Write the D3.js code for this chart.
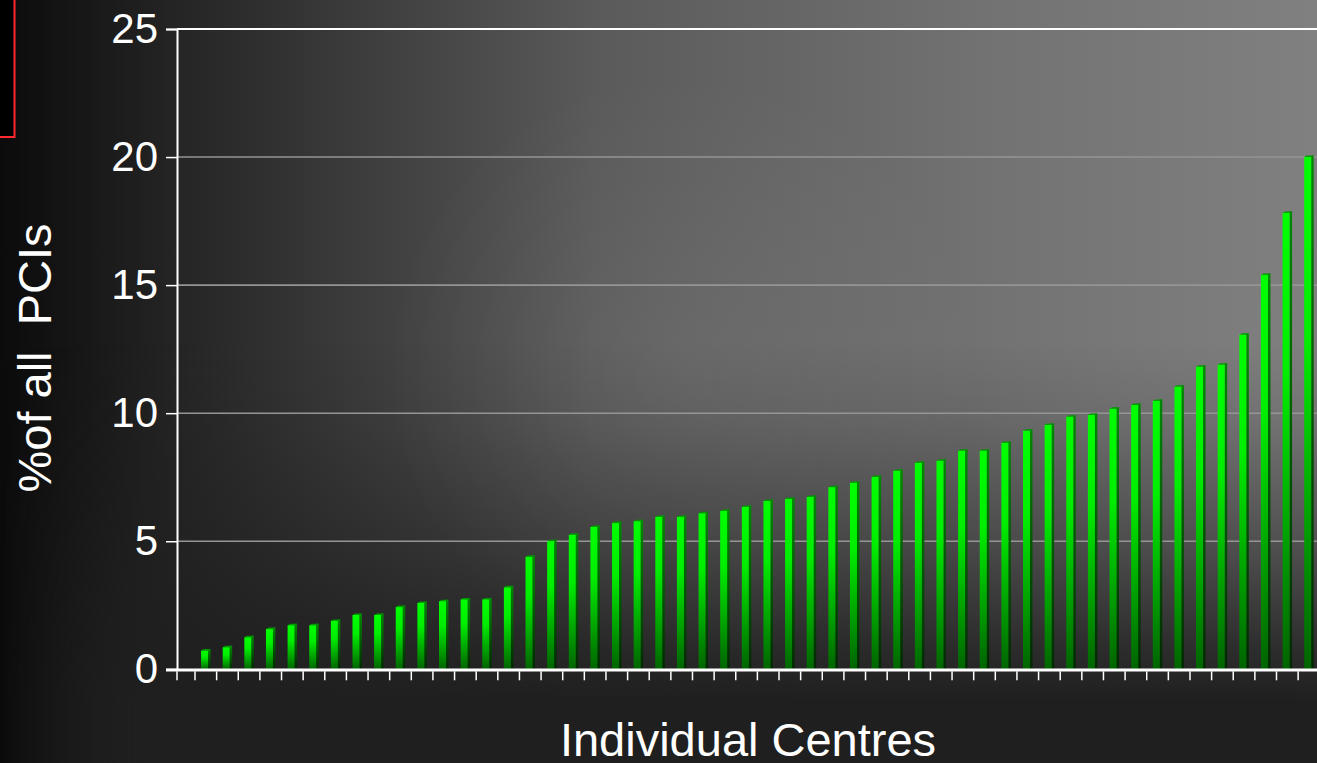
<!DOCTYPE html>
<html>
<head>
<meta charset="utf-8">
<script src="https://cdn.jsdelivr.net/npm/d3@7"></script>
<style>
  html, body { margin: 0; padding: 0; background: #1a1a1a; overflow: hidden; }
  svg { display: block; }
  text { font-family: "Liberation Sans", Arial, sans-serif; fill: #ffffff; }
</style>
</head>
<body>
<svg id="chart" width="1317" height="763"></svg>
<script>
// ---- data ----
const categories = d3.range(1, 53).map(i => "Centre " + i);
const values = [0.73, 0.86, 1.25, 1.57, 1.72, 1.72, 1.89, 2.12, 2.12, 2.43,
                2.59, 2.66, 2.73, 2.73, 3.2, 4.39, 5.0, 5.25, 5.56, 5.71,
                5.78, 5.95, 5.95, 6.09, 6.18, 6.34, 6.57, 6.65, 6.73, 7.11,
                7.28, 7.51, 7.75, 8.06, 8.14, 8.53, 8.53, 8.84, 9.31, 9.54,
                9.86, 9.93, 10.17, 10.32, 10.48, 11.03, 11.81, 11.89, 13.06, 15.4,
                17.82, 20.0];
const yTickValues = [0, 5, 10, 15, 20, 25];
const yTitle = "%of all\u00a0 PCIs";
const xTitle = "Individual Centres";

const W = 1317, H = 763;
const svg = d3.select("#chart");
const defs = svg.append("defs");

// ---- background ----
const bgH = defs.append("linearGradient").attr("id", "bgH")
  .attr("gradientUnits", "userSpaceOnUse").attr("x1", 0).attr("y1", 0).attr("x2", W).attr("y2", 0);
[[0, "#0b0b0b"], [0.13, "#242424"], [0.45, "#5a5a5a"], [0.76, "#737373"], [1, "#808080"]]
  .forEach(([o, c]) => bgH.append("stop").attr("offset", o).attr("stop-color", c));

const bgV = defs.append("linearGradient").attr("id", "bgV")
  .attr("gradientUnits", "userSpaceOnUse").attr("x1", 0).attr("y1", 0).attr("x2", 0).attr("y2", H);
[[0, 0], [0.45, 0], [0.55, 0.12], [0.72, 0.5], [0.85, 0.85], [0.92, 1], [1, 1]]
  .forEach(([o, a]) => bgV.append("stop").attr("offset", o).attr("stop-color", "#1f1f1f").attr("stop-opacity", a));

const maskG = defs.append("linearGradient").attr("id", "maskG")
  .attr("gradientUnits", "userSpaceOnUse").attr("x1", 0).attr("y1", 0).attr("x2", 200).attr("y2", 0);
maskG.append("stop").attr("offset", 0).attr("stop-color", "#000");
maskG.append("stop").attr("offset", 0.75).attr("stop-color", "#fff");
maskG.append("stop").attr("offset", 1).attr("stop-color", "#fff");
defs.append("mask").attr("id", "leftMask")
  .append("rect").attr("width", W).attr("height", H).attr("fill", "url(#maskG)");

const glow = defs.append("radialGradient").attr("id", "glow")
  .attr("gradientUnits", "userSpaceOnUse").attr("cx", 680).attr("cy", 370).attr("r", 300);
glow.append("stop").attr("offset", 0).attr("stop-color", "#fff").attr("stop-opacity", 0.06);
glow.append("stop").attr("offset", 1).attr("stop-color", "#fff").attr("stop-opacity", 0);

svg.append("rect").attr("width", W).attr("height", H).attr("fill", "url(#bgH)");
svg.append("rect").attr("width", W).attr("height", H).attr("fill", "url(#bgV)").attr("mask", "url(#leftMask)");
svg.append("rect").attr("width", W).attr("height", H).attr("fill", "url(#glow)");

// red box at top-left (partially visible element)
svg.append("rect").attr("x", -10).attr("y", -10).attr("width", 24.5).attr("height", 147)
  .attr("fill", "#000").attr("stroke", "#ff2a30").attr("stroke-width", 2);

// ---- scales ----
const x = d3.scaleBand().domain(categories).range([195, 195 + 52 * 21.63]).padding(0);
const y = d3.scaleLinear().domain([0, 25]).range([669.3, 29]);
const axisX0 = 177;

// gridlines
svg.append("g").selectAll("line").data(yTickValues.filter(v => v > 0 && v < 25)).join("line")
  .attr("x1", axisX0).attr("x2", W).attr("y1", d => y(d)).attr("y2", d => y(d))
  .attr("stroke", "#959595").attr("stroke-width", 1.6);
// top border
svg.append("line").attr("x1", axisX0).attr("x2", W).attr("y1", y(25)).attr("y2", y(25))
  .attr("stroke", "#ffffff").attr("stroke-width", 2);

// ---- bars ----
const gFront = defs.append("linearGradient").attr("id", "gFront").attr("x1", 0).attr("y1", 0).attr("x2", 0).attr("y2", 1);
[[0, "#00ff00"], [0.35, "#00ee00"], [1, "#006400"]]
  .forEach(([o, c]) => gFront.append("stop").attr("offset", o).attr("stop-color", c));
const gSide = defs.append("linearGradient").attr("id", "gSide").attr("x1", 0).attr("y1", 0).attr("x2", 0).attr("y2", 1);
[[0, "#008800"], [1, "#002800"]]
  .forEach(([o, c]) => gSide.append("stop").attr("offset", o).attr("stop-color", c));

const frontW = 7, sideW = 2.5, capH = 1.5;
const barData = categories.map((c, i) => ({ c, v: values[i] }));
const bx = d => x(d.c) + (x.bandwidth() - frontW - sideW) / 2;

const gb = svg.append("g");
gb.selectAll("rect.side").data(barData).join("rect").attr("class", "side")
  .attr("x", d => bx(d) + frontW).attr("y", d => y(d.v) - capH)
  .attr("width", sideW).attr("height", d => y(0) - y(d.v) + capH)
  .attr("fill", "url(#gSide)");
gb.selectAll("polygon.cap").data(barData).join("polygon").attr("class", "cap")
  .attr("points", d => {
    const x0 = bx(d), t = y(d.v);
    return [[x0, t], [x0 + sideW, t - capH], [x0 + frontW + sideW, t - capH], [x0 + frontW, t]].join(" ");
  })
  .attr("fill", "#009a00");
gb.selectAll("rect.front").data(barData).join("rect").attr("class", "front")
  .attr("x", d => bx(d)).attr("y", d => y(d.v))
  .attr("width", frontW).attr("height", d => y(0) - y(d.v))
  .attr("fill", "url(#gFront)");

// ---- axes ----
svg.append("line").attr("x1", 166).attr("x2", W).attr("y1", y(0) + 0.8).attr("y2", y(0) + 0.8)
  .attr("stroke", "#ffffff").attr("stroke-width", 3);
const tickXs = categories.map(c => x(c)).concat([x.range()[1]]);
svg.append("g").selectAll("line").data(tickXs).join("line")
  .attr("x1", d => d).attr("x2", d => d).attr("y1", y(0) + 2).attr("y2", y(0) + 11)
  .attr("stroke", "#ffffff").attr("stroke-width", 1.5);
svg.append("line").attr("x1", axisX0).attr("x2", axisX0).attr("y1", y(0) + 2).attr("y2", y(0) + 11)
  .attr("stroke", "#ffffff").attr("stroke-width", 1.5);

const yAxis = d3.axisLeft(y).tickValues(yTickValues).tickSize(11).tickPadding(8).tickFormat(d3.format("d"));
const gy = svg.append("g").attr("transform", `translate(${axisX0},0)`).call(yAxis);
gy.select(".domain").attr("stroke", "#ffffff").attr("stroke-width", 2);
gy.selectAll(".tick line").attr("stroke", "#ffffff").attr("stroke-width", 1.5);
gy.selectAll(".tick text").attr("fill", "#ffffff").style("font-size", "42px")
  .style("font-family", '"Liberation Sans", Arial, sans-serif');

// titles
svg.append("text").attr("transform", "translate(51,358) rotate(-90)")
  .attr("text-anchor", "middle").style("font-size", "47px").text(yTitle);
svg.append("text").attr("x", 748).attr("y", 756)
  .attr("text-anchor", "middle").style("font-size", "47px").text(xTitle);
</script>
</body>
</html>
